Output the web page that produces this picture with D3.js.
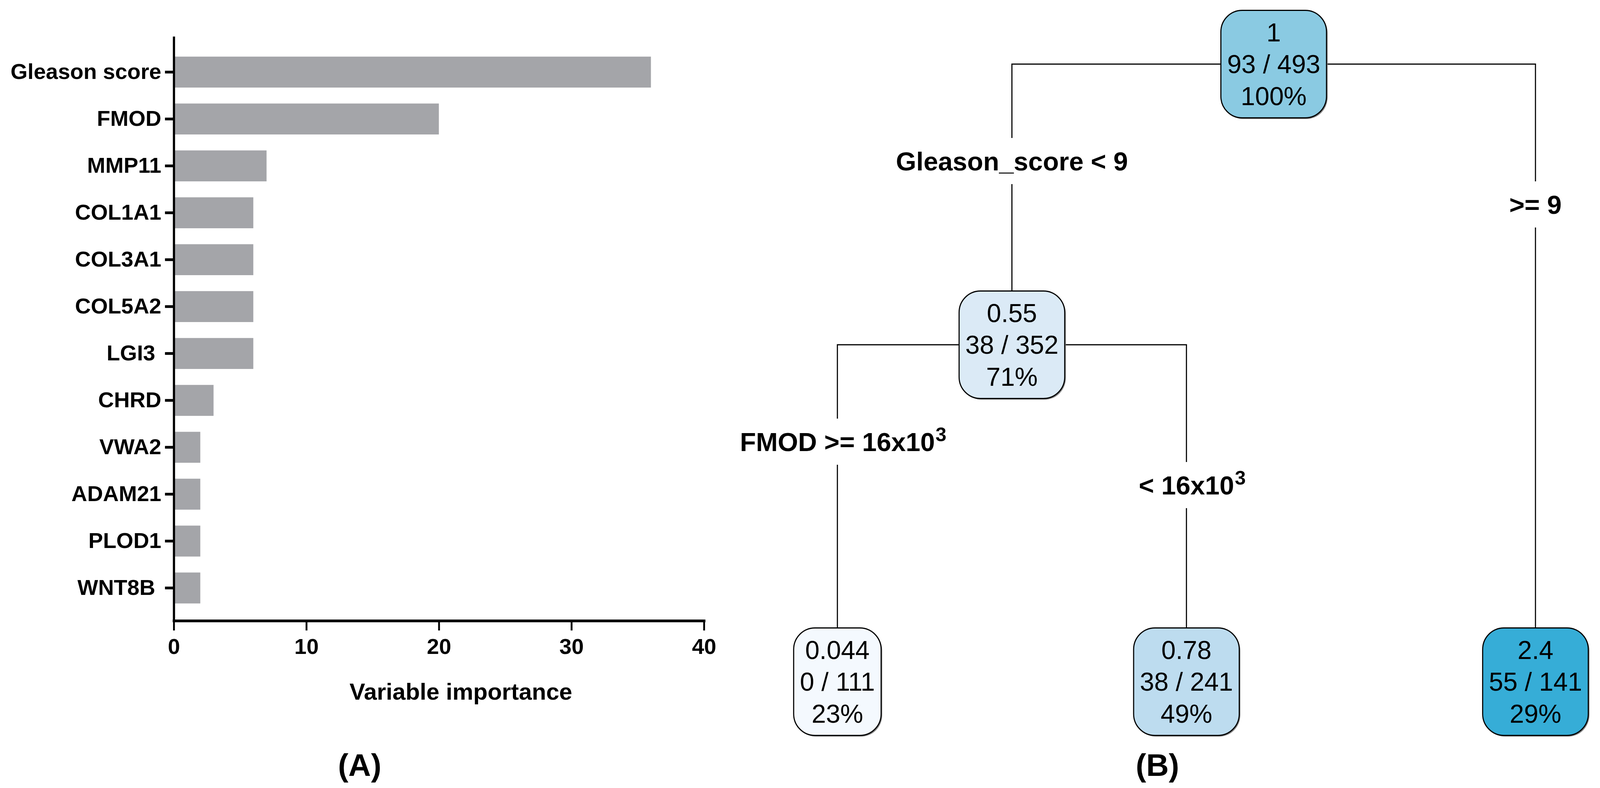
<!DOCTYPE html>
<html>
<head>
<meta charset="utf-8">
<script src="https://cdn.jsdelivr.net/npm/d3@7"></script>
<style>
  html, body { margin: 0; padding: 0; background: #fff; overflow: hidden; }
  #container svg { display: block; }
  text { font-family: "Liberation Sans", Arial, sans-serif; }
</style>
</head>
<body>
<div id="container"></div>
<script>
// Panel A: variable importance
const features = ["Gleason score", "FMOD", "MMP11", "COL1A1", "COL3A1", "COL5A2",
                  "LGI3 ", "CHRD", "VWA2", "ADAM21", "PLOD1", "WNT8B "];
const importance = [36, 20, 7, 6, 6, 6, 6, 3, 2, 2, 2, 2];
const xTicks = [0, 10, 20, 30, 40];

// Panel B: regression tree (rpart numbering)
const nodeIds = ["1", "2", "4", "5", "3"];
const nodeParents = ["", "1", "2", "2", "1"];
const nodeMean = ["1", "0.55", "0.044", "0.78", "2.4"];
const nodeCounts = ["93 / 493", "38 / 352", "0 / 111", "38 / 241", "55 / 141"];
const nodePercent = ["100%", "71%", "23%", "49%", "29%"];
const splitLabels = ["", "Gleason_score < 9", "FMOD >= 16x10", "< 16x10", ">= 9"];
const splitSup = ["", "", "3", "3", ""];

const width = 4364;
const height = 2016;

// drawn in 4364x2016 units, stretched to whatever the viewport really is
const svg = d3.select("#container")
    .append("svg")
    .attr("viewBox", `0 0 ${width} ${height}`)
    .attr("preserveAspectRatio", "none")
    .style("width", "100vw")
    .style("height", "100vh");

// undo the horizontal squash on text so glyphs keep their shape
const vw = window.innerWidth || width, vh = window.innerHeight || height;
const k = (vh / height) / (vw / width);
function unsquash(sel) {
    sel.each(function () {
        const x0 = +this.getAttribute("x") || 0;
        this.setAttribute("transform", `translate(${x0 * (1 - k)},0) scale(${k},1)`);
    });
}

svg.append("rect").attr("width", width).attr("height", height).attr("fill", "#fff");

// ---------- bar chart ----------
const scaleX = d3.scaleLinear().domain([0, 40]).range([474, 1920]);
const scaleY = d3.scaleBand()
    .domain(features)
    .range([93, 1588])
    .paddingInner(0.34)
    .paddingOuter(0.4)
    .align(0.54);

svg.append("g")
    .selectAll("rect")
    .data(features)
    .join("rect")
    .attr("x", scaleX(0))
    .attr("y", d => scaleY(d))
    .attr("width", (d, i) => scaleX(importance[i]) - scaleX(0))
    .attr("height", scaleY.bandwidth())
    .attr("fill", "#a4a5a9");

const xAxis = svg.append("g")
    .attr("transform", "translate(0,1588)")
    .call(d3.axisBottom(scaleX).tickValues(xTicks).tickSize(25).tickSizeOuter(0).tickPadding(20));
xAxis.select(".domain").attr("stroke-width", 7).attr("stroke-linecap", "square");
xAxis.selectAll(".tick line").attr("stroke-width", 5);
xAxis.selectAll("text")
    .attr("font-size", 56)
    .attr("font-weight", "bold")
    .attr("font-family", "'Liberation Sans', Arial, sans-serif")
    .call(unsquash);

const yAxis = svg.append("g")
    .attr("transform", "translate(474,0)")
    .call(d3.axisLeft(scaleY).tickSize(24).tickSizeOuter(0).tickPadding(10));
yAxis.select(".domain").attr("stroke-width", 6);
yAxis.selectAll(".tick line").attr("stroke-width", 7);
yAxis.selectAll("text")
    .attr("font-size", 56)
    .attr("font-weight", "bold")
    .attr("font-family", "'Liberation Sans', Arial, sans-serif")
    .style("white-space", "pre")
    .call(unsquash);

svg.append("text")
    .attr("x", 1257)
    .attr("y", 1790)
    .attr("text-anchor", "middle")
    .attr("font-size", 60)
    .attr("font-weight", "bold")
    .text("Variable importance")
    .call(unsquash);

// ---------- tree ----------
const rows = nodeIds.map((id, i) => ({
    id: id,
    parent: nodeParents[i],
    mean: nodeMean[i],
    counts: nodeCounts[i],
    pct: nodePercent[i],
    split: splitLabels[i],
    sup: splitSup[i]
}));

const root = d3.stratify()
    .id(d => d.id)
    .parentId(d => d.parent || null)(rows);

// leaves evenly spaced between first and last leaf centre, parents centred over children
const leafLeft = 2284, leafRight = 4188;
const nLeaves = root.leaves().length;
const leafStep = (leafRight - leafLeft) / (nLeaves - 1);
d3.cluster().size([leafStep * nLeaves, 1]).separation(() => 1)(root);
const levelY = d3.scaleLinear().domain([2, 1, 0]).range([164, 882, 1744]);
root.each(n => {
    n.cx = leafLeft - leafStep / 2 + n.x;
    n.cy = levelY(n.height);
});

const boxH = 275;
const fillColor = d3.scaleOrdinal()
    .domain(nodeIds)
    .range(["#8acae2", "#dbeaf6", "#f4f9fe", "#bddcef", "#36add7"]);

const tree = svg.append("g");
const labelGap = 59;

// connectors
root.descendants().filter(n => n.parent).forEach(n => {
    const p = n.parent;
    const isLeft = p.children[0] === n;
    const ly = p.cy + (isLeft ? 248 : 359);
    tree.append("path")
        .attr("d", `M${p.cx},${p.cy}H${n.cx}V${ly - labelGap}M${n.cx},${ly + labelGap}V${n.cy - boxH / 2}`)
        .attr("fill", "none")
        .attr("stroke", "#000")
        .attr("stroke-width", 3);

    const t = tree.append("text")
        .attr("x", n.cx)
        .attr("y", ly + 24)
        .attr("text-anchor", "middle")
        .attr("font-size", 67)
        .attr("font-weight", "bold")
        .text(n.data.split);
    const bb = t.node().getBBox();
    t.call(unsquash);
    if (n.data.sup) {
        const right = n.cx + k * (bb.x + bb.width - n.cx);
        tree.append("text")
            .attr("x", right + 2)
            .attr("y", ly + 24 - 25)
            .attr("font-size", 50)
            .attr("font-weight", "bold")
            .text(n.data.sup)
            .call(unsquash);
    }
});

// node boxes
root.descendants().forEach(n => {
    const g = tree.append("g").attr("transform", `translate(${n.cx},${n.cy})`);
    const lines = [n.data.mean, n.data.counts, n.data.pct];
    const texts = g.selectAll("text")
        .data(lines)
        .join("text")
        .attr("x", 0)
        .attr("y", (d, i) => 23 + (i - 1) * 81.5)
        .attr("text-anchor", "middle")
        .attr("font-size", 66)
        .text(d => d);
    let maxW = 0;
    texts.each(function () { maxW = Math.max(maxW, this.getComputedTextLength()); });
    texts.call(unsquash);
    const bw = maxW * k + 34;
    g.insert("rect", "text")
        .attr("x", -bw / 2)
        .attr("y", -boxH / 2)
        .attr("width", bw)
        .attr("height", boxH)
        .attr("rx", 58)
        .attr("ry", 55)
        .attr("fill", fillColor(n.id))
        .attr("stroke", "#000")
        .attr("stroke-width", 3);
    g.insert("rect", "rect")
        .attr("x", -bw / 2 + 3)
        .attr("y", -boxH / 2 + 3)
        .attr("width", bw)
        .attr("height", boxH)
        .attr("rx", 58)
        .attr("ry", 55)
        .attr("fill", "#888");
});

// panel letters
svg.append("text")
    .attr("x", 981).attr("y", 1985)
    .attr("text-anchor", "middle")
    .attr("font-family", "'Liberation Serif', 'Times New Roman', serif")
    .attr("font-size", 80)
    .attr("font-weight", "bold")
    .text("(A)")
    .call(unsquash);
svg.append("text")
    .attr("x", 3157).attr("y", 1985)
    .attr("text-anchor", "middle")
    .attr("font-family", "'Liberation Serif', 'Times New Roman', serif")
    .attr("font-size", 80)
    .attr("font-weight", "bold")
    .text("(B)")
    .call(unsquash);
</script>
</body>
</html>
